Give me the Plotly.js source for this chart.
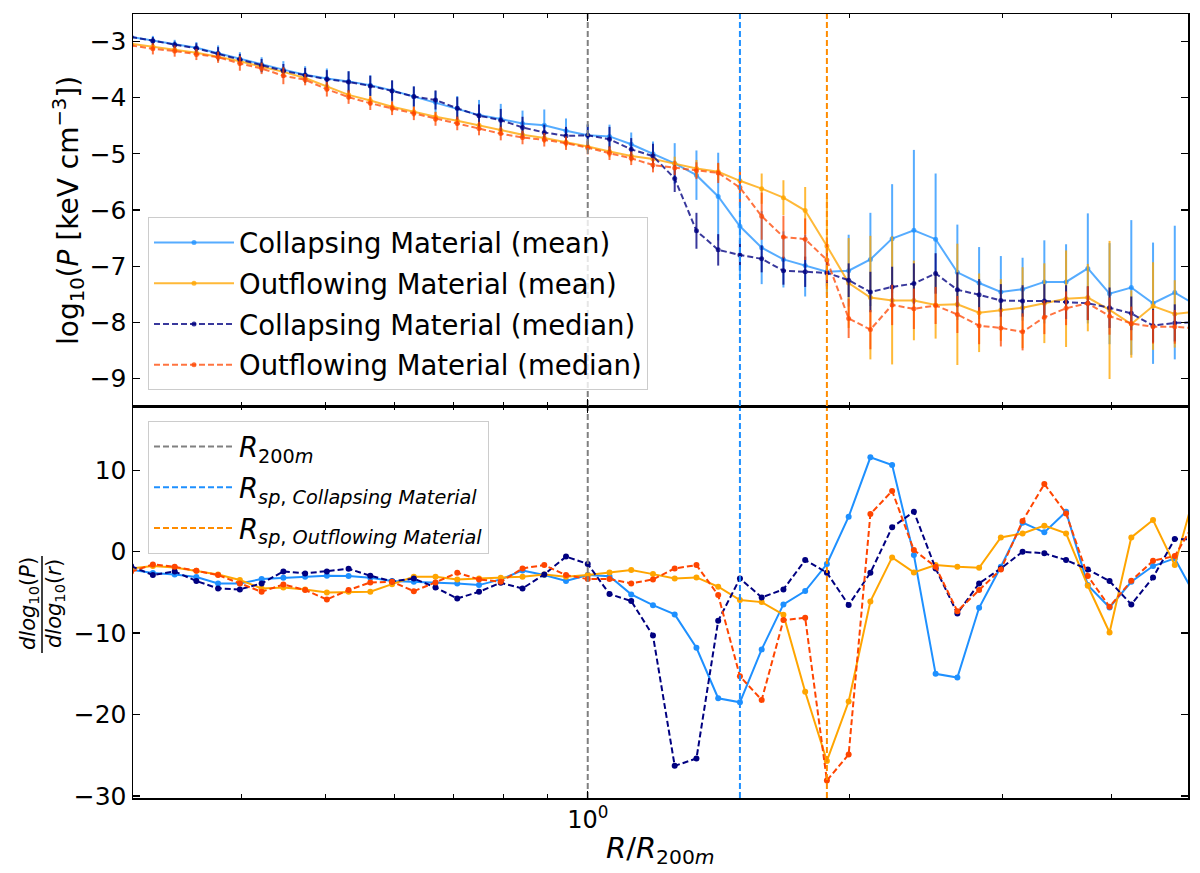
<!DOCTYPE html>
<html>
<head>
<meta charset="utf-8">
<script src="https://cdn.plot.ly/plotly-3.0.1.min.js"></script>
<style>html,body{margin:0;padding:0;background:#fff;}#plot{width:1200px;height:873px;}</style>
</head>
<body>
<div id="plot"></div>
<script>
// Radial bins (R / R200m)
const radius = [0.2985,0.3162,0.3350,0.3548,0.3758,0.3981,0.4217,0.4467,0.4732,0.5012,
  0.5309,0.5623,0.5957,0.6310,0.6683,0.7079,0.7499,0.7943,0.8414,0.8913,
  0.9441,1.0000,1.0593,1.1220,1.1885,1.2589,1.3335,1.4125,1.4962,1.5849,
  1.6788,1.7783,1.8836,1.9953,2.1135,2.2387,2.3714,2.5119,2.6607,2.8184,
  2.9854,3.1623,3.3497,3.5481,3.7584,3.9811,4.2170,4.4668,4.7315,5.0119];

// Top panel: log10 pressure profiles
const colMean = [-2.92,-2.98,-3.05,-3.11,-3.21,-3.31,-3.41,-3.50,-3.59,-3.66,
  -3.71,-3.78,-3.87,-3.98,-4.08,-4.19,-4.31,-4.38,-4.46,-4.49,
  -4.59,-4.67,-4.69,-4.83,-5.00,-5.17,-5.38,-5.76,-6.29,-6.67,
  -6.88,-6.99,-7.10,-7.08,-6.88,-6.51,-6.36,-6.52,-7.11,-7.30,
  -7.46,-7.41,-7.28,-7.28,-7.04,-7.49,-7.38,-7.66,-7.47,-7.70];
const colMeanErr = [0.08,0.08,0.08,0.10,0.14,0.12,0.13,0.15,0.15,0.18,
  0.18,0.18,0.17,0.18,0.20,0.22,0.27,0.27,0.23,0.28,
  0.22,0.20,0.21,0.21,0.22,0.36,0.44,0.78,0.89,0.65,
  0.50,0.55,0.45,0.64,0.83,0.97,1.43,1.17,0.85,0.64,
  0.64,0.56,0.74,0.67,0.98,0.90,1.20,1.08,1.19,1.00];
const outMean = [-3.04,-3.09,-3.14,-3.20,-3.27,-3.35,-3.45,-3.54,-3.65,-3.80,
  -3.95,-4.05,-4.16,-4.25,-4.34,-4.41,-4.49,-4.58,-4.66,-4.72,
  -4.79,-4.87,-4.96,-5.04,-5.09,-5.17,-5.26,-5.32,-5.48,-5.62,
  -5.78,-6.01,-6.64,-7.30,-7.56,-7.61,-7.61,-7.69,-7.68,-7.83,
  -7.78,-7.74,-7.66,-7.58,-7.56,-7.78,-8.03,-7.71,-7.85,-7.81];
const outMeanErr = [0.06,0.06,0.07,0.07,0.08,0.08,0.08,0.08,0.09,0.09,
  0.09,0.09,0.09,0.09,0.09,0.09,0.09,0.09,0.09,0.09,
  0.09,0.09,0.10,0.10,0.12,0.12,0.15,0.15,0.18,0.27,
  0.31,0.42,0.85,0.80,1.10,1.14,0.71,0.60,1.08,0.70,
  0.55,0.72,0.71,0.86,0.60,1.23,0.60,0.78,0.60,0.70];
const colMed = [-2.92,-2.99,-3.06,-3.12,-3.22,-3.32,-3.43,-3.52,-3.60,-3.67,
  -3.72,-3.79,-3.88,-3.98,-4.04,-4.19,-4.32,-4.40,-4.53,-4.62,
  -4.68,-4.67,-4.74,-4.92,-5.04,-5.44,-6.37,-6.71,-6.80,-6.87,
  -7.08,-7.10,-7.12,-7.25,-7.46,-7.37,-7.31,-7.13,-7.42,-7.51,
  -7.61,-7.62,-7.62,-7.64,-7.66,-7.74,-7.84,-8.06,-8.01,-8.00];
const colMedErr = [0.07,0.07,0.06,0.09,0.12,0.10,0.12,0.12,0.13,0.16,
  0.19,0.18,0.19,0.18,0.17,0.20,0.20,0.20,0.19,0.14,
  0.16,0.19,0.22,0.20,0.22,0.24,0.32,0.28,0.27,0.24,
  0.25,0.27,0.24,0.30,0.36,0.36,0.36,0.36,0.31,0.28,
  0.29,0.28,0.30,0.30,0.30,0.36,0.30,0.30,0.33,0.30];
const outMed = [-3.07,-3.13,-3.17,-3.23,-3.28,-3.39,-3.48,-3.61,-3.68,-3.85,
  -3.99,-4.10,-4.19,-4.28,-4.38,-4.46,-4.55,-4.64,-4.71,-4.75,
  -4.81,-4.89,-4.99,-5.08,-5.20,-5.25,-5.30,-5.34,-5.60,-6.11,
  -6.48,-6.52,-6.89,-7.93,-8.13,-7.69,-7.76,-7.70,-7.86,-8.06,
  -8.10,-8.17,-7.91,-7.75,-7.66,-7.89,-8.02,-8.08,-8.08,-8.11];
const outMedErr = [0.10,0.10,0.10,0.10,0.10,0.13,0.10,0.15,0.10,0.13,
  0.12,0.12,0.12,0.12,0.12,0.12,0.12,0.12,0.12,0.12,
  0.12,0.12,0.12,0.12,0.13,0.13,0.15,0.18,0.33,0.42,
  0.38,0.37,0.40,0.35,0.35,0.36,0.36,0.33,0.33,0.33,
  0.33,0.33,0.30,0.30,0.30,0.33,0.30,0.30,0.30,0.30];

// Bottom panel: logarithmic slopes
const colMeanSlope = [-2.20,-2.62,-2.79,-3.10,-3.89,-3.89,-3.36,-3.20,-3.07,-2.95,
  -2.99,-3.20,-3.60,-3.69,-3.81,-3.89,-4.10,-3.40,-2.30,-2.87,
  -3.60,-2.85,-3.00,-5.24,-6.56,-7.70,-11.8,-18.0,-18.5,-12.0,
  -6.47,-4.83,-1.51,4.30,11.6,10.66,-0.41,-15.0,-15.45,-6.89,
  -1.84,3.57,2.38,4.92,-4.10,-6.84,-3.69,-1.76,-0.82,-5.70];
const outMeanSlope = [-2.05,-1.76,-1.93,-2.34,-2.79,-3.48,-4.51,-4.39,-4.63,-5.00,
  -4.92,-4.92,-3.98,-3.07,-3.07,-3.40,-3.28,-3.20,-3.07,-2.79,
  -3.07,-2.87,-2.54,-2.25,-2.75,-3.28,-3.16,-4.30,-5.94,-6.19,
  -7.74,-17.2,-25.7,-18.4,-6.10,-0.70,-2.54,-1.64,-1.84,-1.97,
  1.76,2.25,3.20,2.25,-4.18,-9.92,1.76,3.89,-1.64,8.00];
const colMedSlope = [-1.76,-2.87,-2.42,-3.60,-4.51,-4.63,-3.89,-2.42,-2.66,-2.42,
  -2.10,-2.95,-3.65,-3.30,-4.39,-5.74,-4.92,-3.81,-4.51,-2.79,
  -0.60,-1.50,-5.20,-6.06,-10.3,-26.3,-25.4,-8.48,-3.28,-5.61,
  -4.63,-1.02,-2.58,-6.55,-2.58,3.00,4.92,-2.05,-7.58,-3.89,
  -2.05,0.00,-0.20,-1.02,-2.17,-3.61,-6.48,-3.16,1.56,1.50];
const outMedSlope = [-2.46,-1.56,-1.84,-2.34,-2.87,-3.89,-4.92,-4.02,-4.71,-5.86,
  -4.71,-3.77,-3.69,-4.84,-3.77,-2.58,-3.40,-3.69,-2.05,-1.64,
  -2.87,-3.36,-3.36,-3.89,-3.40,-2.05,-1.64,-5.33,-15.3,-18.2,
  -8.40,-8.11,-28.1,-24.9,4.63,7.46,0.20,-1.84,-7.30,-4.71,
  -2.17,3.77,8.32,4.71,-2.99,-6.76,-3.57,-1.11,-0.53,4.00];

// Characteristic radii
const r200m = 1.0;
const rspCollapsing = 1.4962;
const rspOutflowing = 1.8836;

// Axis ranges and ticks
const xLimits = [0.3, 4.9];
const topYLimits = [-9.49, -2.51];
const botYLimits = [-30.25, 17.9];
const topYTicks = [-9,-8,-7,-6,-5,-4,-3];
const botYTicks = [-30,-20,-10,0,10];
const xMajorTicks = [1];
const xMajorLabels = ['10<sup>0</sup>'];
const xMinorTicks = [0.3,0.4,0.5,0.6,0.7,0.8,0.9,2,3,4];

// ---- geometry helpers (pixels -> paper) ----
const L = 133, R = 12, T = 14, B = 75, W = 1200, H = 873;
const pw = W - L - R, ph = H - T - B;
const px = p => (p - L) / pw;
const py = p => (H - B - p) / ph;

const FONT = 'DejaVu Sans';
const C = {
  blue: '#1E90FF', orange: '#FFA500', navy: '#000080', red: '#FF4500',
  blueA: 'rgba(30,144,255,0.75)', orangeA: 'rgba(255,165,0,0.78)',
  navyA: 'rgba(0,0,128,0.78)', redA: 'rgba(255,69,0,0.75)'
};
const dashStyle = '6px,3px';

const traces = [];
function topTrace(y, err, colA, dash, name, grp) {
  traces.push({
    x: radius, y: y, xaxis: 'x2', yaxis: 'y2', type: 'scatter', mode: 'lines+markers',
    name: name, legend: 'legend', legendgroup: grp,
    line: {color: colA, width: 2, dash: dash},
    marker: {color: colA, size: 5},
    error_y: {type: 'data', array: err, visible: true, color: colA, thickness: 2, width: 0}
  });
}
topTrace(colMean, colMeanErr, C.blueA, 'solid', 'Collapsing Material (mean)', 'g1');
topTrace(outMean, outMeanErr, C.orangeA, 'solid', 'Outflowing Material (mean)', 'g2');
topTrace(colMed, colMedErr, C.navyA, dashStyle, 'Collapsing Material (median)', 'g3');
topTrace(outMed, outMedErr, C.redA, dashStyle, 'Outflowing Material (median)', 'g4');

function botTrace(y, col, dash) {
  traces.push({
    x: radius, y: y, xaxis: 'x', yaxis: 'y', type: 'scatter', mode: 'lines+markers',
    showlegend: false, line: {color: col, width: 2, dash: dash},
    marker: {color: col, size: 6}
  });
}
botTrace(colMeanSlope, C.blue, 'solid');
botTrace(outMeanSlope, C.orange, 'solid');
botTrace(colMedSlope, C.navy, dashStyle);
botTrace(outMedSlope, C.red, dashStyle);

const vlines = [
  [r200m, 'gray', '<i>R</i><sub>200<i>m</i></sub>', 'h1'],
  [rspCollapsing, C.blue, '<i>R</i><sub><i>sp</i>, <i>Collapsing Material</i></sub>', 'h2'],
  [rspOutflowing, 'darkorange', '<i>R</i><sub><i>sp</i>, <i>Outflowing Material</i></sub>', 'h3']
];
vlines.forEach(v => {
  traces.push({x: [v[0], v[0]], y: topYLimits, xaxis: 'x2', yaxis: 'y2', mode: 'lines',
    showlegend: false, line: {color: v[1], width: 2, dash: dashStyle}, hoverinfo: 'skip'});
  traces.push({x: [v[0], v[0]], y: botYLimits, xaxis: 'x', yaxis: 'y', mode: 'lines',
    name: v[2], legend: 'legend2', legendgroup: v[3],
    line: {color: v[1], width: 2, dash: dashStyle}, hoverinfo: 'skip'});
});

const axisCommon = {
  showline: true, linecolor: 'black', linewidth: 1.5, mirror: 'allticks',
  ticks: 'inside', ticklen: 7, tickwidth: 1.3, tickcolor: 'black',
  showgrid: false, zeroline: false, tickfont: {family: FONT, size: 25, color: 'black'}
};
const logRange = [Math.log10(xLimits[0]), Math.log10(xLimits[1])];
const xCommon = Object.assign({}, axisCommon, {
  type: 'log', range: logRange, tickmode: 'array', tickvals: xMajorTicks, ticktext: xMajorLabels,
  tickfont: {family: FONT, size: 24, color: 'black'},
  minor: {tickmode: 'array', tickvals: xMinorTicks, ticks: 'inside', ticklen: 4, tickwidth: 1, tickcolor: 'black'}
});

const legendCommon = {
  xref: 'paper', yref: 'paper', xanchor: 'left', yanchor: 'top',
  bgcolor: 'rgba(255,255,255,0.8)', bordercolor: '#cccccc', borderwidth: 1,
  font: {family: FONT, size: 27.5, color: 'black'}, itemwidth: 80, tracegroupgap: 2
};

const ann = (text, x, y, size, angle) => ({
  text: text, xref: 'paper', yref: 'paper', x: px(x), y: py(y),
  xanchor: 'center', yanchor: 'middle', showarrow: false, textangle: angle || 0,
  font: {family: FONT, size: size, color: 'black'}
});

const layout = {
  width: W, height: H, margin: {l: L, r: R, t: T, b: B},
  paper_bgcolor: 'white', plot_bgcolor: 'white',
  font: {family: FONT, color: 'black'},
  xaxis: Object.assign({}, xCommon, {domain: [0, 1], anchor: 'y'}),
  xaxis2: Object.assign({}, xCommon, {domain: [0, 1], anchor: 'y2', matches: 'x', showticklabels: false}),
  yaxis: Object.assign({}, axisCommon, {domain: [0, 0.5], range: botYLimits, tickmode: 'array', tickvals: botYTicks}),
  yaxis2: Object.assign({}, axisCommon, {domain: [0.5, 1], range: topYLimits, tickmode: 'array', tickvals: topYTicks}),
  legend: Object.assign({}, legendCommon, {x: px(148), y: py(217)}),
  legend2: Object.assign({}, legendCommon, {x: px(148), y: py(421)}),
  annotations: [
    ann('<i>R</i>/<i>R</i><sub>200<i>m</i></sub>', 660, 850, 29),
    ann('log<sub>10</sub>(<i>P</i> [keV cm<sup>\u22123</sup>])', 68, 211, 28, -90),
    ann('<i>dlog</i><sub>10</sub>(<i>P</i>)', 29, 604, 21, -90),
    ann('<i>dlog</i><sub>10</sub>(<i>r</i>)', 55, 604, 21, -90)
  ],
  shapes: [
    {type: 'line', xref: 'paper', yref: 'paper', x0: px(42), x1: px(42), y0: py(556), y1: py(653),
     line: {color: 'black', width: 1.5}}
  ]
};

Plotly.newPlot('plot', traces, layout, {staticPlot: true, displayModeBar: false});
</script>
</body>
</html>
